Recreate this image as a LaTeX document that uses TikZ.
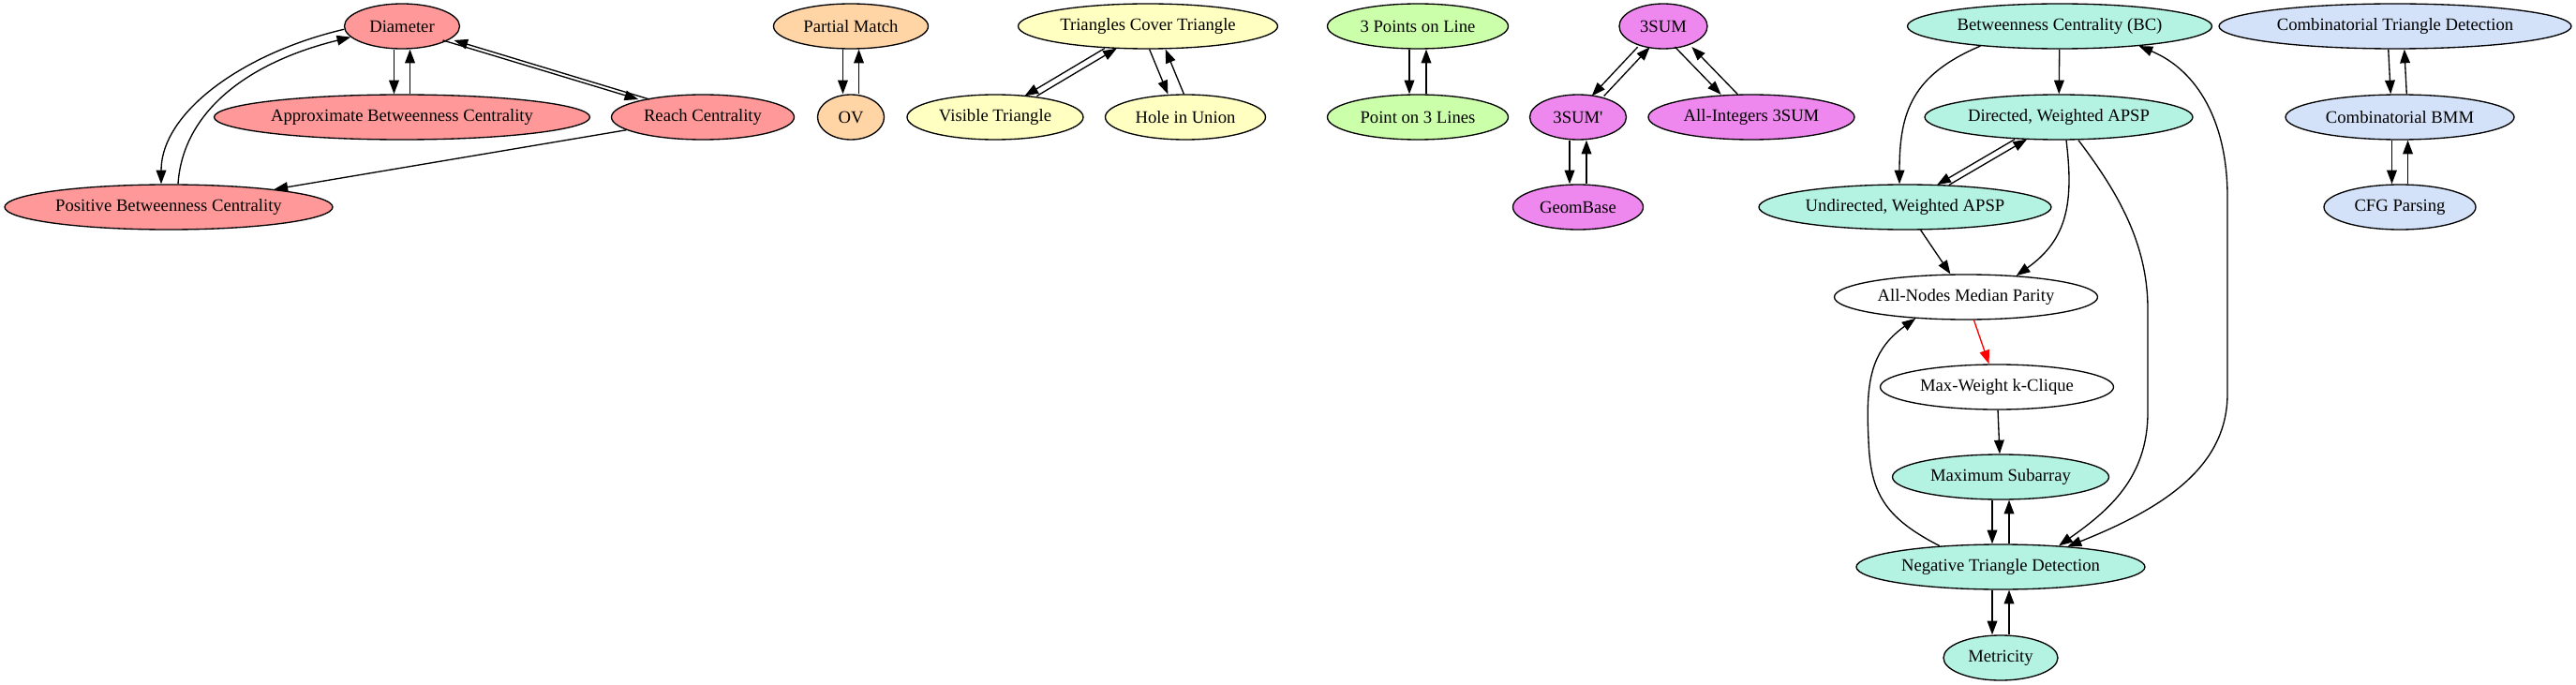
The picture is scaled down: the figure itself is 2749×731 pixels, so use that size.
\documentclass[tikz,border=0pt]{standalone}
\usepackage{fontspec}
\setmainfont{Liberation Serif}[Ligatures=TeXOff]
\usetikzlibrary{shapes.geometric,arrows.meta,calc}
\definecolor{cRed}{RGB}{255,153,153}
\definecolor{cOrange}{RGB}{255,213,165}
\definecolor{cYellow}{RGB}{255,255,194}
\definecolor{cGreen}{RGB}{204,255,170}
\definecolor{cViolet}{RGB}{238,136,238}
\definecolor{cTeal}{RGB}{180,242,226}
\definecolor{cBlue}{RGB}{211,226,249}
\begin{document}
\begin{tikzpicture}[x=0.75pt,y=-0.75pt,
  nd/.style={ellipse, draw=black, line width=1pt, inner sep=0pt, minimum height=36pt, font=\fontsize{14pt}{16pt}\selectfont},
  e/.style={draw, line width=1pt, -{Triangle[length=11pt,width=8pt]}},
  be/.style={draw, line width=1pt, {Triangle[length=11pt,width=8pt]}-{Triangle[length=11pt,width=8pt]}},
  lshift/.style={transform canvas={xshift=-#1}},
  rshift/.style={transform canvas={xshift=#1}},
]
\fill[white] (0,0) rectangle (2749,731);
\useasboundingbox (0,0) rectangle (2749,731);

% red group
\node[nd, fill=cRed, minimum width=92.25pt] (dia) at (429,28) {Diameter};
\node[nd, fill=cRed, minimum width=300.75pt] (abc) at (429,125) {Approximate Betweenness Centrality};
\node[nd, fill=cRed, minimum width=146.25pt] (reach) at (750,125) {Reach Centrality};
\node[nd, fill=cRed, minimum width=262.5pt] (pbc) at (180,221) {Positive Betweenness Centrality};
% orange
\node[nd, fill=cOrange, minimum width=123.75pt] (pm) at (908,28) {Partial Match};
\node[nd, fill=cOrange, minimum width=53.25pt] (ov) at (908,125) {OV};
% yellow
\node[nd, fill=cYellow, minimum width=207.75pt] (tct) at (1225,28) {Triangles Cover Triangle};
\node[nd, fill=cYellow, minimum width=141pt] (vis) at (1062,125) {Visible Triangle};
\node[nd, fill=cYellow, minimum width=128.25pt] (hole) at (1265,125) {Hole in Union};
% green
\node[nd, fill=cGreen, minimum width=144.75pt] (p3l) at (1513,28) {3 Points on Line};
\node[nd, fill=cGreen, minimum width=144.75pt] (p3) at (1513,125) {Point on 3 Lines};
% violet
\node[nd, fill=cViolet, minimum width=70.5pt] (s3) at (1775,28) {3SUM};
\node[nd, fill=cViolet, minimum width=77.25pt] (s3p) at (1684,125) {3SUM'};
\node[nd, fill=cViolet, minimum width=165pt] (ai3) at (1869,125) {All-Integers 3SUM};
\node[nd, fill=cViolet, minimum width=104.25pt] (geom) at (1684,221) {GeomBase};
% teal
\node[nd, fill=cTeal, minimum width=243.75pt] (bc) at (2198,28) {Betweenness Centrality (BC)};
\node[nd, fill=cTeal, minimum width=214.5pt] (dir) at (2197,125) {Directed, Weighted APSP};
\node[nd, fill=cTeal, minimum width=234pt] (und) at (2033,221) {Undirected, Weighted APSP};
\node[nd, fill=white, minimum width=210.75pt] (anmp) at (2098,317) {All-Nodes Median Parity};
\node[nd, fill=white, minimum width=186.75pt] (mwk) at (2131,413) {Max-Weight k-Clique};
\node[nd, fill=cTeal, minimum width=173.25pt] (msub) at (2135,509) {Maximum Subarray};
\node[nd, fill=cTeal, minimum width=231pt] (ntd) at (2135,605) {Negative Triangle Detection};
\node[nd, fill=cTeal, minimum width=91.5pt] (met) at (2135,702) {Metricity};
% blue
\node[nd, fill=cBlue, minimum width=282pt] (ctd) at (2556,28) {Combinatorial Triangle Detection};
\node[nd, fill=cBlue, minimum width=183pt] (bmm) at (2561,125) {Combinatorial BMM};
\node[nd, fill=cBlue, minimum width=121.5pt] (cfg) at (2561,221) {CFG Parsing};

% red edges
\draw[e, lshift=6.4pt] (dia) -- (abc);
\draw[e, rshift=6.4pt] (abc) -- (dia);
\draw[e, lshift=4.5pt] (dia) -- (reach);
\draw[e, rshift=4.5pt] (reach) -- (dia);
\draw[e] (dia.183) .. controls +(-107,25) and +(0,-77) .. ([xshift=-6pt]pbc.north);
\draw[e] ([xshift=7.5pt]pbc.north) .. controls +(5,-77) and +(-110,27) .. (dia.192);
\draw[e] (reach) -- (pbc);
% orange
\draw[e, lshift=6.4pt] (pm) -- (ov);
\draw[e, rshift=6.4pt] (ov) -- (pm);
% yellow
\draw[e, lshift=4.9pt] (tct) -- (vis);
\draw[e, rshift=4.9pt] (vis) -- (tct);
\draw[e, lshift=6.4pt] (tct) -- (hole);
\draw[e, rshift=6.4pt] (hole) -- (tct);
% green
\draw[e, lshift=6.75pt] (p3l) -- (p3);
\draw[e, rshift=6.75pt] (p3) -- (p3l);
% violet
\draw[e, lshift=4.9pt] (s3) -- (s3p);
\draw[e, rshift=4.9pt] (s3p) -- (s3);
\draw[e, lshift=6.75pt] (s3) -- (ai3);
\draw[e, rshift=6.75pt] (ai3) -- (s3);
\draw[e, lshift=6.75pt] (s3p) -- (geom);
\draw[e, rshift=6.75pt] (geom) -- (s3p);
% teal
\draw[e] (bc) -- (dir);
\draw[e] (bc.194) .. controls +(-73,31) and +(0,-77) .. ([xshift=-4.5pt]und.north);
\draw[e, lshift=4.9pt] (dir) -- (und);
\draw[e, rshift=4.9pt] (und) -- (dir);
\draw[e] (und) -- (anmp);
\draw[e] ([xshift=6pt]dir.south) .. controls +(8,66) and +(55,-39) .. (anmp.23);
\draw[e] ([xshift=15.75pt]dir.south) .. controls (2260,205) and (2292,260) .. (2292,330) -- (2292,440) .. controls (2292,510) and (2250,545) .. (ntd.20);
\draw[be] (bc.-14) .. controls (2345,75) and (2377,130) .. (2377,210) -- (2377,420) .. controls (2377,495) and (2315,540) .. (ntd.17);
\draw[e] (ntd.161) .. controls (2010,552) and (1996,525) .. (1994,470) .. controls (1991,410) and (1995,375) .. (anmp.203);
\draw[e, red] (anmp) -- (mwk);
\draw[e] (mwk) -- (msub);
\draw[e, lshift=6.75pt] (msub) -- (ntd);
\draw[e, rshift=6.75pt] (ntd) -- (msub);
\draw[e, lshift=6.75pt] (ntd) -- (met);
\draw[e, rshift=6.75pt] (met) -- (ntd);
% blue
\draw[e, lshift=6.4pt] (ctd) -- (bmm);
\draw[e, rshift=6.4pt] (bmm) -- (ctd);
\draw[e, lshift=6.4pt] (bmm) -- (cfg);
\draw[e, rshift=6.4pt] (cfg) -- (bmm);
\end{tikzpicture}
\end{document}
